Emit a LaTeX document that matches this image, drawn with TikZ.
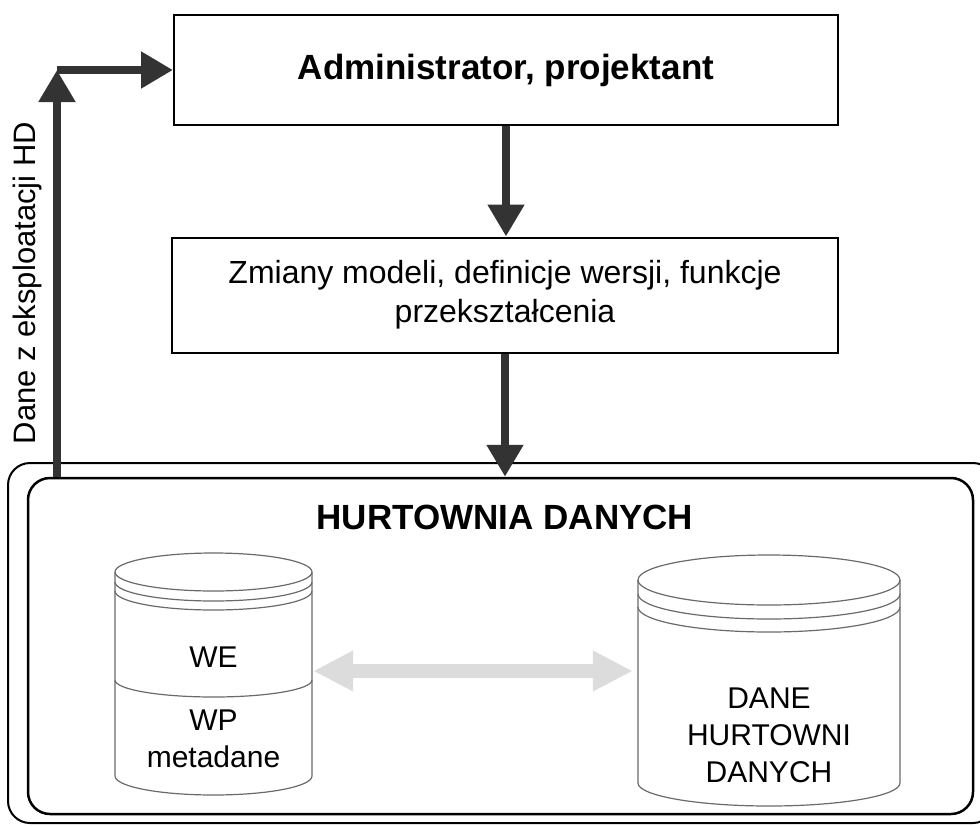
\documentclass[tikz,border=0pt]{standalone}
\usepackage{fontspec}
\setmainfont{Liberation Sans}
\usetikzlibrary{arrows.meta,positioning}
\definecolor{ciemny}{HTML}{333333}
\definecolor{jasny}{HTML}{DCDCDC}
\definecolor{cienka}{HTML}{6A6A6A}
\tikzset{
  ramka/.style={draw, line width=2pt, align=center, inner sep=0pt},
  gruba/.style={ciemny, line width=8pt, -{Triangle[length=32pt,width=35pt]}},
  szara/.style={jasny, line width=14pt, {Triangle[length=40pt,width=38pt]}-{Triangle[length=40pt,width=38pt]}},
  cyl/.style={cienka, line width=1.2pt},
  napis/.style={font=\fontsize{30}{37}\selectfont, align=center}
}
\begin{document}
\begin{tikzpicture}[x=1pt, y=-1pt]
\useasboundingbox (0,0) rectangle (980,825);
\node[ramka, minimum width=664pt, minimum height=110pt, font=\fontsize{35}{42}\selectfont\bfseries] (adm) at (506,70) {Administrator, projektant};
\node[ramka, minimum width=666pt, minimum height=115pt, font=\fontsize{32}{39}\selectfont] (zm) at (505,295) {Zmiany modeli, definicje wersji, funkcje\\przekształcenia};
% hurtownia
\draw[line width=2pt, rounded corners=22pt] (8,463) rectangle (995,823);
\node[draw, line width=2.5pt, rounded corners=22pt, minimum width=945pt, minimum height=336pt] (hd) at (500.5,646) {};
\node[font=\fontsize{35}{42}\selectfont\bfseries] (tytul) at (505,517) {HURTOWNIA DANYCH};
% bazy
\node[minimum width=197pt, minimum height=180pt] (we) at (213.5,671) {};
\node[minimum width=262pt, minimum height=180pt] (dane) at (769,671) {};
\draw[cyl] (213.5,572) ellipse[x radius=98.5, y radius=19];
\draw[cyl] (115,582) arc[start angle=180, end angle=0, x radius=98.5, y radius=19];
\draw[cyl] (115,591) arc[start angle=180, end angle=0, x radius=98.5, y radius=19];
\draw[cyl] (115,680) arc[start angle=180, end angle=0, x radius=98.5, y radius=17];
\draw[cyl] (115,572) -- (115,776) arc[start angle=180, end angle=0, x radius=98.5, y radius=19] -- (312,572);
\draw[cyl] (769,580) ellipse[x radius=131, y radius=25];
\draw[cyl] (638,594) arc[start angle=180, end angle=0, x radius=131, y radius=25];
\draw[cyl] (638,607) arc[start angle=180, end angle=0, x radius=131, y radius=25];
\draw[cyl] (638,580) -- (638,783) arc[start angle=180, end angle=0, x radius=131, y radius=23] -- (900,580);
\node[napis] (wetxt) at (213.5,657) {WE};
\node[napis] (wptxt) at (213.5,739) {WP\\metadane};
\node[napis] (danetxt) at (769,735) {DANE\\HURTOWNI\\DANYCH};
\draw[szara, shorten <=1pt, shorten >=5pt] (we.east) -- (dane.west);
% strzalki
\coordinate (rog) at (57,70);
\draw[gruba] (hd.north west -| rog) -- (rog);
\draw[gruba] (rog) -- (adm.west);
\draw[gruba] (adm.south) -- (adm.south |- zm.north);
\draw[gruba] (zm.south) -- (zm.south |- hd.north);
\node[rotate=90, font=\fontsize{31}{37}\selectfont] (eksp) at (27,283) {Dane z eksploatacji HD};
\end{tikzpicture}
\end{document}
